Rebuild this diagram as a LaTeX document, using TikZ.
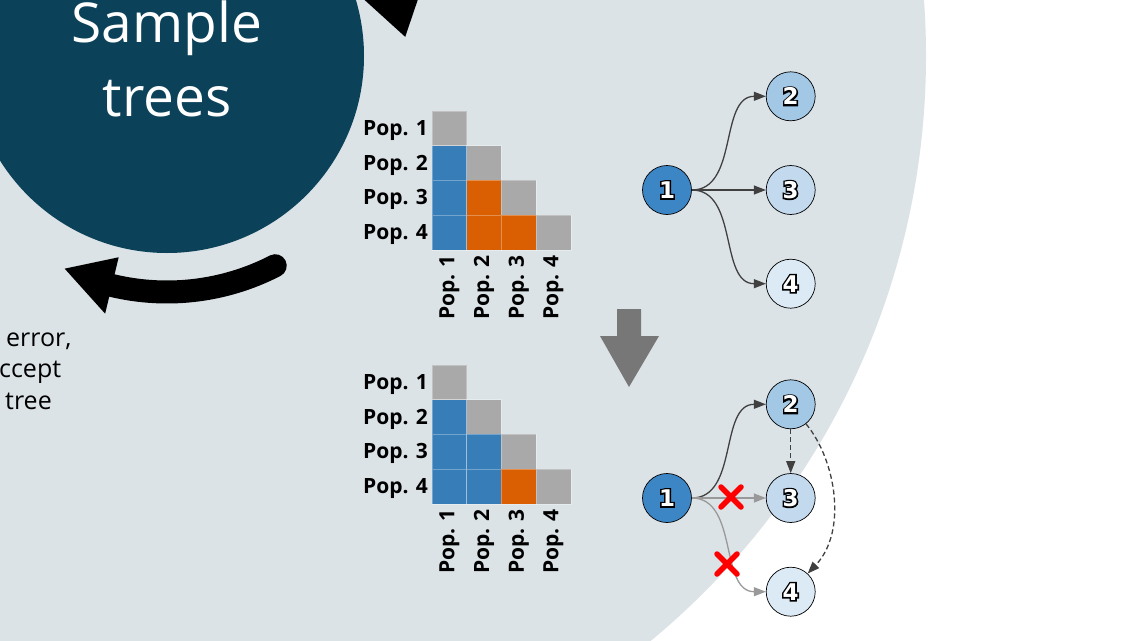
\documentclass[tikz,border=0pt]{standalone}
\usepackage{fontspec}
\setmainfont{Open Sans}
\newfontfamily\numfont{DejaVu Sans Bold}
\newfontfamily\numrim{DejaVu Sans Bold}[FakeBold=13]
\newcommand\rimnum[1]{\rlap{\textcolor{black}{\numrim #1}}{\numfont #1}}
\usetikzlibrary{arrows.meta,positioning}

\definecolor{bgcircle}{HTML}{DCE3E7}
\definecolor{darkcircle}{HTML}{0C4259}
\definecolor{popblue}{HTML}{377EB8}
\definecolor{poporange}{HTML}{D95F02}
\definecolor{popgray}{HTML}{A9A9A9}
\definecolor{shadeA}{HTML}{3D86C6}
\definecolor{shadeB}{HTML}{A3C8E6}
\definecolor{shadeC}{HTML}{C3D9EE}
\definecolor{shadeD}{HTML}{DCEAF6}
\definecolor{edgedark}{HTML}{404040}
\definecolor{edgelight}{HTML}{999999}
\definecolor{downgray}{HTML}{777777}

\tikzset{
  cell/.style={draw=white, draw opacity=0.3, line width=0.6pt},
  rowlabel/.style={anchor=east, inner sep=0pt, font=\bfseries\fontsize{21}{21}\selectfont},
  collabel/.style={anchor=east, rotate=90, inner sep=0pt, font=\bfseries\fontsize{21}{21}\selectfont},
  popnode/.style={circle, draw=black, line width=0.7pt, minimum size=49pt, inner sep=0pt,
    text=white, font=\fontsize{23}{23}\selectfont},
  edge/.style={draw=edgedark, line width=1.3pt, -{Triangle[length=12pt,width=9pt]}},
  edgefaded/.style={edge, draw=edgelight, -{Triangle[length=12pt,width=9pt,color=edgelight]}},
  nedge/.style={edge, dash pattern=on 5pt off 3pt},
  crossmark/.style={draw=red, line width=5.5pt, line cap=round},
  cyclearrow/.style={line width=23pt, line cap=round}
}

\begin{document}
\begin{tikzpicture}[x=1pt, y=-1pt]
  \useasboundingbox (0,0) rectangle (1138,640);
  \clip (0,0) rectangle (1138,640);
  \fill[white] (0,0) rectangle (1138,640);

  % Background circles
  \coordinate (ctr) at (167,56);
  \fill[bgcircle] (ctr) circle[radius=759];
  \fill[darkcircle] (ctr) circle[radius=197];
  \node[anchor=base, text=white, font=\fontsize{55}{55}\selectfont] (sample) at (167,42) {Sample};
  \node[anchor=base, text=white, font=\fontsize{55}{55}\selectfont] (trees) at (167,116) {trees};

  % Cycle arrows
  \draw[cyclearrow] ([shift={(62.7:236)}]ctr) arc[start angle=62.7, end angle=105, radius=236];
  \fill ([shift={(103.5:207)}]ctr) -- ([shift={(115.7:236)}]ctr) -- ([shift={(103.5:265)}]ctr) -- cycle;
  \draw[cyclearrow] ([shift={(-40:236)}]ctr) arc[start angle=-40, end angle=-15, radius=236];
  \fill ([shift={(-16:205)}]ctr) -- ([shift={(-4.6:239)}]ctr) -- ([shift={(-16:267)}]ctr) -- cycle;

  % Cut-off caption
  \node[anchor=base west, inner sep=0pt, font=\fontsize{25}{25}\selectfont] (err) at (6,346) {error,};
  \node[anchor=base west, inner sep=0pt, font=\fontsize{25}{25}\selectfont] (acc) at (-1,377) {ccept};
  \node[anchor=base west, inner sep=0pt, font=\fontsize{25}{25}\selectfont] (tre) at (5,409) {tree};

  % Upper matrix
  \foreach \r/\c/\col in {1/1/popgray, 2/1/popblue, 2/2/popgray, 3/1/popblue, 3/2/poporange,
      3/3/popgray, 4/1/popblue, 4/2/poporange, 4/3/poporange, 4/4/popgray}
    \draw[cell, fill=\col] ({432+(\c-1)*34.7}, {111+(\r-1)*34.7}) rectangle +(34.7,34.7);
  \foreach \i in {1,...,4} {
    \node[rowlabel] (rowA\i) at (428, {113+(\i-0.5)*34.7}) {Pop. \i};
    \node[collabel] (colA\i) at ({432+(\i-0.5)*34.7}, 255) {Pop. \i};
  }

  % Lower matrix
  \foreach \r/\c/\col in {1/1/popgray, 2/1/popblue, 2/2/popgray, 3/1/popblue, 3/2/popblue,
      3/3/popgray, 4/1/popblue, 4/2/popblue, 4/3/poporange, 4/4/popgray}
    \draw[cell, fill=\col] ({432+(\c-1)*34.7}, {365+(\r-1)*34.7}) rectangle +(34.7,34.7);
  \foreach \i in {1,...,4} {
    \node[rowlabel] (rowB\i) at (428, {367+(\i-0.5)*34.7}) {Pop. \i};
    \node[collabel] (colB\i) at ({432+(\i-0.5)*34.7}, 509) {Pop. \i};
  }

  % Down arrow
  \fill[downgray] (617,309) -- (641,309) -- (641,336) -- (659,336) -- (629,387)
    -- (600,336) -- (617,336) -- cycle;

  % Upper tree
  \node[popnode, fill=shadeA] (a1) at (667,190) {\rimnum{1}};
  \node[popnode, fill=shadeC, right=74pt of a1] (a3) {\rimnum{3}};
  \node[popnode, fill=shadeB, above=44pt of a3] (a2) {\rimnum{2}};
  \node[popnode, fill=shadeD, below=44pt of a3] (a4) {\rimnum{4}};
  \draw[edge] (a1.east) to[out=0, in=180] (a2.west);
  \draw[edge] (a1.east) -- (a3.west);
  \draw[edge] (a1.east) to[out=0, in=180] (a4.west);

  % Lower tree
  \node[popnode, fill=shadeA] (b1) at (667,498) {\rimnum{1}};
  \node[popnode, fill=shadeC, right=74pt of b1] (b3) {\rimnum{3}};
  \node[popnode, fill=shadeB, above=44pt of b3] (b2) {\rimnum{2}};
  \node[popnode, fill=shadeD, below=44pt of b3] (b4) {\rimnum{4}};
  \draw[edge] (b1.east) to[out=0, in=180] (b2.west);
  \draw[edgefaded] (b1.east) -- (b3.west);
  \draw[edgefaded] (b1.east) to[out=0, in=180] (b4.west);
  \draw[nedge] (b2.south) -- (b3.north);
  \draw[nedge] (b2.-52) .. controls +(30,36) and +(40,-42) .. (b4.47);

  % Rejected edges
  \draw[crossmark] (731,497) +(-10,-10) -- +(10,10) +(-10,10) -- +(10,-10);
  \draw[crossmark] (727,564) +(-10,-10) -- +(10,10) +(-10,10) -- +(10,-10);
\end{tikzpicture}
\end{document}
